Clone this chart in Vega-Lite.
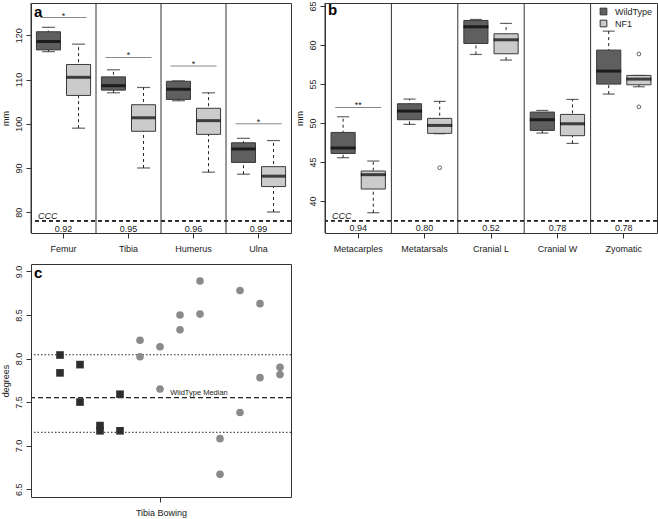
{
  "$schema": "https://vega.github.io/schema/vega-lite/v6.json",
  "padding": {"left": 0, "top": 0, "right": 0, "bottom": 0},
  "background": "white",
  "config": {
    "font": "Liberation Sans",
    "view": {"stroke": "#333333", "strokeWidth": 1},
    "axis": {"labelFont": "Liberation Sans", "titleFont": "Liberation Sans", "labelFontSize": 9, "titleFontSize": 9, "titleFontWeight": "normal", "labelColor": "#222222", "titleColor": "#222222", "tickColor": "#333333", "domain": false, "grid": false, "tickSize": 5},
    "axisY": {"labelAngle": -90, "labelAlign": "center", "labelBaseline": "bottom", "labelPadding": 3, "titlePadding": 4},
    "axisX": {"labelAngle": 0, "labelPadding": 6},
    "title": {"font": "Liberation Sans"}
  },
  "datasets": {
    "boxA": [
      {"bone": "Femur", "group": "WildType", "lo": 116.3, "q1": 116.7, "med": 118.6, "q3": 120.8, "hi": 121.8},
      {"bone": "Femur", "group": "NF1", "lo": 99.0, "q1": 106.4, "med": 110.5, "q3": 113.4, "hi": 118.0},
      {"bone": "Tibia", "group": "WildType", "lo": 107.0, "q1": 107.6, "med": 108.6, "q3": 110.6, "hi": 112.2},
      {"bone": "Tibia", "group": "NF1", "lo": 90.0, "q1": 98.3, "med": 101.35, "q3": 104.3, "hi": 108.2},
      {"bone": "Humerus", "group": "WildType", "lo": 105.2, "q1": 105.5, "med": 107.8, "q3": 109.6, "hi": 109.7},
      {"bone": "Humerus", "group": "NF1", "lo": 89.05, "q1": 97.6, "med": 100.7, "q3": 103.5, "hi": 107.0},
      {"bone": "Ulna", "group": "WildType", "lo": 88.6, "q1": 91.25, "med": 94.3, "q3": 95.7, "hi": 96.7},
      {"bone": "Ulna", "group": "NF1", "lo": 80.05, "q1": 85.8, "med": 88.15, "q3": 90.3, "hi": 96.2}
    ],
    "cccA": [
      {"bone": "Femur", "ccc": 0.92, "sig": 124.0, "star": "*"},
      {"bone": "Tibia", "ccc": 0.95, "sig": 115.0, "star": "*"},
      {"bone": "Humerus", "ccc": 0.96, "sig": 113.05, "star": "*"},
      {"bone": "Ulna", "ccc": 0.99, "sig": 100.0, "star": "*"}
    ],
    "boxB": [
      {"measure": "Metacarples", "group": "WildType", "lo": 45.56, "q1": 46.1, "med": 46.8, "q3": 48.8, "hi": 50.81},
      {"measure": "Metacarples", "group": "NF1", "lo": 38.5, "q1": 41.54, "med": 43.38, "q3": 43.85, "hi": 45.13},
      {"measure": "Metatarsals", "group": "WildType", "lo": 49.83, "q1": 50.43, "med": 51.54, "q3": 52.48, "hi": 53.08},
      {"measure": "Metatarsals", "group": "NF1", "lo": 48.63, "q1": 48.68, "med": 49.7, "q3": 50.6, "hi": 52.78},
      {"measure": "Cranial L", "group": "WildType", "lo": 58.8, "q1": 60.21, "med": 62.35, "q3": 63.16, "hi": 63.29},
      {"measure": "Cranial L", "group": "NF1", "lo": 58.08, "q1": 58.89, "med": 60.68, "q3": 61.45, "hi": 62.78},
      {"measure": "Cranial W", "group": "WildType", "lo": 48.72, "q1": 49.06, "med": 50.43, "q3": 51.41, "hi": 51.62},
      {"measure": "Cranial W", "group": "NF1", "lo": 47.39, "q1": 48.38, "med": 49.91, "q3": 51.11, "hi": 53.03},
      {"measure": "Zyomatic", "group": "WildType", "lo": 53.72, "q1": 55.0, "med": 56.67, "q3": 59.36, "hi": 61.79},
      {"measure": "Zyomatic", "group": "NF1", "lo": 54.66, "q1": 54.91, "med": 55.64, "q3": 56.11, "hi": 56.11}
    ],
    "cccB": [
      {"measure": "Metacarples", "ccc": 0.94, "sig": 52.0, "star": "**"},
      {"measure": "Metatarsals", "ccc": 0.80, "sig": null, "star": null},
      {"measure": "Cranial L", "ccc": 0.52, "sig": null, "star": null},
      {"measure": "Cranial W", "ccc": 0.78, "sig": null, "star": null},
      {"measure": "Zyomatic", "ccc": 0.78, "sig": null, "star": null}
    ],
    "outB": [
      {"measure": "Metatarsals", "group": "NF1", "value": 44.27},
      {"measure": "Zyomatic", "group": "NF1", "value": 58.86},
      {"measure": "Zyomatic", "group": "NF1", "value": 52.08}
    ],
    "bow": [
      {"animal": 1, "group": "WildType", "deg": 8.04},
      {"animal": 1, "group": "WildType", "deg": 7.835},
      {"animal": 2, "group": "WildType", "deg": 7.93},
      {"animal": 2, "group": "WildType", "deg": 7.5},
      {"animal": 3, "group": "WildType", "deg": 7.23},
      {"animal": 3, "group": "WildType", "deg": 7.17},
      {"animal": 4, "group": "WildType", "deg": 7.59},
      {"animal": 4, "group": "WildType", "deg": 7.17},
      {"animal": 5, "group": "NF1", "deg": 8.21},
      {"animal": 5, "group": "NF1", "deg": 8.02},
      {"animal": 6, "group": "NF1", "deg": 8.135},
      {"animal": 6, "group": "NF1", "deg": 7.65},
      {"animal": 7, "group": "NF1", "deg": 8.5},
      {"animal": 7, "group": "NF1", "deg": 8.33},
      {"animal": 8, "group": "NF1", "deg": 8.89},
      {"animal": 8, "group": "NF1", "deg": 8.51},
      {"animal": 9, "group": "NF1", "deg": 7.08},
      {"animal": 9, "group": "NF1", "deg": 6.67},
      {"animal": 10, "group": "NF1", "deg": 8.78},
      {"animal": 10, "group": "NF1", "deg": 7.38},
      {"animal": 11, "group": "NF1", "deg": 8.63},
      {"animal": 11, "group": "NF1", "deg": 7.78},
      {"animal": 12, "group": "NF1", "deg": 7.9},
      {"animal": 12, "group": "NF1", "deg": 7.815}
    ]
  },
  "vconcat": [
    {
      "hconcat": [
        {
          "width": 260,
          "height": 230,
          "title": {"text": "a", "anchor": "start", "frame": "group", "offset": -17, "dx": 3, "fontSize": 15, "fontWeight": "bold", "color": "#000000"},
          "layer": [
            {
              "data": {"name": "cccA"},
              "mark": {"type": "rule", "color": "#333333", "strokeWidth": 1},
              "encoding": {
                "x": {"field": "bone", "type": "nominal", "bandPosition": 0, "scale": {"domain": ["Femur", "Tibia", "Humerus", "Ulna"], "paddingInner": 0, "paddingOuter": 0}, "axis": {"title": null}}
              }
            },
            {
              "data": {"name": "cccA"},
              "mark": {"type": "rule", "color": "#222222", "strokeDash": [4, 3], "strokeWidth": 1},
              "encoding": {"y": {"datum": 78.03, "type": "quantitative"}}
            },
            {
              "data": {"name": "boxA"},
              "mark": {"type": "rule", "color": "#222222", "strokeDash": [3, 3], "strokeWidth": 1},
              "encoding": {
                "x": {"field": "bone", "type": "nominal", "scale": {"domain": ["Femur", "Tibia", "Humerus", "Ulna"], "paddingInner": 0, "paddingOuter": 0}, "axis": {"title": null}},
                "xOffset": {"field": "group", "type": "nominal", "scale": {"domain": ["WildType", "NF1"], "paddingInner": 0.2, "paddingOuter": 0.18}},
                "y": {"field": "lo", "type": "quantitative", "scale": {"domain": [75.3, 127.3], "nice": false, "zero": false}, "axis": {"title": "mm", "values": [80, 90, 100, 110, 120]}},
                "y2": {"field": "hi"}
              }
            },
            {
              "data": {"name": "boxA"},
              "mark": {"type": "tick", "orient": "horizontal", "size": 13, "thickness": 1.2, "color": "#222222"},
              "encoding": {
                "x": {"field": "bone", "type": "nominal"},
                "xOffset": {"field": "group", "type": "nominal"},
                "y": {"field": "hi", "type": "quantitative"}
              }
            },
            {
              "data": {"name": "boxA"},
              "mark": {"type": "tick", "orient": "horizontal", "size": 13, "thickness": 1.2, "color": "#222222"},
              "encoding": {
                "x": {"field": "bone", "type": "nominal"},
                "xOffset": {"field": "group", "type": "nominal"},
                "y": {"field": "lo", "type": "quantitative"}
              }
            },
            {
              "data": {"name": "boxA"},
              "mark": {"type": "bar", "stroke": "#3a3a3a", "strokeWidth": 1},
              "encoding": {
                "x": {"field": "bone", "type": "nominal"},
                "xOffset": {"field": "group", "type": "nominal"},
                "y": {"field": "q1", "type": "quantitative"},
                "y2": {"field": "q3"},
                "color": {"field": "group", "type": "nominal", "scale": {"domain": ["WildType", "NF1"], "range": ["#5f5f5f", "#cbcbcb"]}, "legend": null}
              }
            },
            {
              "data": {"name": "boxA"},
              "mark": {"type": "tick", "orient": "horizontal", "size": 24, "thickness": 3, "color": "#000000"},
              "encoding": {
                "x": {"field": "bone", "type": "nominal"},
                "xOffset": {"field": "group", "type": "nominal"},
                "y": {"field": "med", "type": "quantitative"}
              }
            },
            {
              "data": {"name": "cccA"},
              "mark": {"type": "tick", "orient": "horizontal", "size": 46, "thickness": 1, "color": "#555555"},
              "encoding": {
                "x": {"field": "bone", "type": "nominal"},
                "y": {"field": "sig", "type": "quantitative"}
              }
            },
            {
              "data": {"name": "cccA"},
              "mark": {"type": "text", "fontSize": 9, "baseline": "alphabetic", "dy": 1, "color": "#222222"},
              "encoding": {
                "x": {"field": "bone", "type": "nominal"},
                "y": {"field": "sig", "type": "quantitative"},
                "text": {"field": "star"}
              }
            },
            {
              "data": {"name": "cccA"},
              "mark": {"type": "text", "fontSize": 9, "baseline": "middle", "color": "#222222"},
              "encoding": {
                "x": {"field": "bone", "type": "nominal"},
                "y": {"datum": 76.3, "type": "quantitative"},
                "text": {"field": "ccc", "type": "quantitative", "format": ".2f"}
              }
            },
            {
              "data": {"values": [{"bone": "Femur", "label": "CCC"}]},
              "mark": {"type": "text", "fontSize": 9, "fontStyle": "italic", "align": "left", "baseline": "middle", "dx": 7, "color": "#222222"},
              "encoding": {
                "x": {"field": "bone", "type": "nominal", "bandPosition": 0},
                "y": {"datum": 79.1, "type": "quantitative"},
                "text": {"field": "label"}
              }
            }
          ]
        },
        {
          "width": 332,
          "height": 230,
          "title": {"text": "b", "anchor": "start", "frame": "group", "offset": -17, "dx": 3, "fontSize": 15, "fontWeight": "bold", "color": "#000000"},
          "layer": [
            {
              "data": {"name": "cccB"},
              "mark": {"type": "rule", "color": "#333333", "strokeWidth": 1},
              "encoding": {
                "x": {"field": "measure", "type": "nominal", "bandPosition": 0, "scale": {"domain": ["Metacarples", "Metatarsals", "Cranial L", "Cranial W", "Zyomatic"], "paddingInner": 0, "paddingOuter": 0}, "axis": {"title": null}}
              }
            },
            {
              "data": {"name": "cccB"},
              "mark": {"type": "rule", "color": "#222222", "strokeDash": [4, 3], "strokeWidth": 1},
              "encoding": {"y": {"datum": 37.47, "type": "quantitative"}}
            },
            {
              "data": {"name": "boxB"},
              "mark": {"type": "rule", "color": "#222222", "strokeDash": [3, 3], "strokeWidth": 1},
              "encoding": {
                "x": {"field": "measure", "type": "nominal", "scale": {"domain": ["Metacarples", "Metatarsals", "Cranial L", "Cranial W", "Zyomatic"], "paddingInner": 0, "paddingOuter": 0}, "axis": {"title": null}},
                "xOffset": {"field": "group", "type": "nominal", "scale": {"domain": ["WildType", "NF1"], "paddingInner": 0.2, "paddingOuter": 0.2}},
                "y": {"field": "lo", "type": "quantitative", "scale": {"domain": [35.9, 65.4], "nice": false, "zero": false}, "axis": {"title": "mm", "values": [40, 45, 50, 55, 60, 65]}},
                "y2": {"field": "hi"}
              }
            },
            {
              "data": {"name": "boxB"},
              "mark": {"type": "tick", "orient": "horizontal", "size": 12, "thickness": 1.2, "color": "#222222"},
              "encoding": {
                "x": {"field": "measure", "type": "nominal"},
                "xOffset": {"field": "group", "type": "nominal"},
                "y": {"field": "hi", "type": "quantitative"}
              }
            },
            {
              "data": {"name": "boxB"},
              "mark": {"type": "tick", "orient": "horizontal", "size": 12, "thickness": 1.2, "color": "#222222"},
              "encoding": {
                "x": {"field": "measure", "type": "nominal"},
                "xOffset": {"field": "group", "type": "nominal"},
                "y": {"field": "lo", "type": "quantitative"}
              }
            },
            {
              "data": {"name": "boxB"},
              "mark": {"type": "bar", "stroke": "#3a3a3a", "strokeWidth": 1},
              "encoding": {
                "x": {"field": "measure", "type": "nominal"},
                "xOffset": {"field": "group", "type": "nominal"},
                "y": {"field": "q1", "type": "quantitative"},
                "y2": {"field": "q3"},
                "color": {"field": "group", "type": "nominal", "scale": {"domain": ["WildType", "NF1"], "range": ["#5f5f5f", "#cbcbcb"]}, "legend": {"orient": "top-right", "title": null, "symbolType": "square", "symbolSize": 45, "symbolStrokeColor": "#333333", "symbolStrokeWidth": 1, "labelFontSize": 9, "labelFont": "Liberation Sans", "labelColor": "#222222", "rowPadding": 1, "padding": 0, "offset": 4, "labelOffset": 7}}
              }
            },
            {
              "data": {"name": "boxB"},
              "mark": {"type": "tick", "orient": "horizontal", "size": 25, "thickness": 3, "color": "#000000"},
              "encoding": {
                "x": {"field": "measure", "type": "nominal"},
                "xOffset": {"field": "group", "type": "nominal"},
                "y": {"field": "med", "type": "quantitative"}
              }
            },
            {
              "data": {"name": "outB"},
              "mark": {"type": "point", "shape": "circle", "filled": false, "size": 14, "stroke": "#222222", "strokeWidth": 1},
              "encoding": {
                "x": {"field": "measure", "type": "nominal"},
                "xOffset": {"field": "group", "type": "nominal"},
                "y": {"field": "value", "type": "quantitative"}
              }
            },
            {
              "data": {"name": "cccB"},
              "mark": {"type": "tick", "orient": "horizontal", "size": 46, "thickness": 1, "color": "#555555"},
              "encoding": {
                "x": {"field": "measure", "type": "nominal"},
                "y": {"field": "sig", "type": "quantitative"}
              }
            },
            {
              "data": {"name": "cccB"},
              "mark": {"type": "text", "fontSize": 9, "baseline": "alphabetic", "dy": 1, "color": "#222222"},
              "encoding": {
                "x": {"field": "measure", "type": "nominal"},
                "y": {"field": "sig", "type": "quantitative"},
                "text": {"field": "star"}
              }
            },
            {
              "data": {"name": "cccB"},
              "mark": {"type": "text", "fontSize": 9, "baseline": "middle", "color": "#222222"},
              "encoding": {
                "x": {"field": "measure", "type": "nominal"},
                "y": {"datum": 36.5, "type": "quantitative"},
                "text": {"field": "ccc", "type": "quantitative", "format": ".2f"}
              }
            },
            {
              "data": {"values": [{"measure": "Metacarples", "label": "CCC"}]},
              "mark": {"type": "text", "fontSize": 9, "fontStyle": "italic", "align": "left", "baseline": "middle", "dx": 7, "color": "#222222"},
              "encoding": {
                "x": {"field": "measure", "type": "nominal", "bandPosition": 0},
                "y": {"datum": 38.07, "type": "quantitative"},
                "text": {"field": "label"}
              }
            }
          ]
        }
      ],
      "spacing": 2,
      "resolve": {"scale": {"color": "independent", "x": "independent", "y": "independent", "xOffset": "independent"}, "legend": {"color": "independent"}}
    },
    {
      "width": 260,
      "height": 233,
      "title": {"text": "c", "anchor": "start", "frame": "group", "offset": -17, "dx": 3, "fontSize": 15, "fontWeight": "bold", "color": "#000000"},
      "layer": [
        {
          "data": {"values": [{"line": "upper", "deg": 8.043}, {"line": "lower", "deg": 7.153}]},
          "mark": {"type": "rule", "color": "#222222", "strokeDash": [1.5, 2], "strokeWidth": 1},
          "encoding": {"y": {"field": "deg", "type": "quantitative", "scale": {"domain": [6.41, 9.085], "nice": false, "zero": false}, "axis": {"title": "degrees", "values": [6.5, 7, 7.5, 8, 8.5, 9], "format": ".1f"}}}
        },
        {
          "data": {"values": [{"line": "median", "deg": 7.55}]},
          "mark": {"type": "rule", "color": "#222222", "strokeDash": [5, 3], "strokeWidth": 1.2},
          "encoding": {"y": {"field": "deg", "type": "quantitative"}}
        },
        {
          "data": {"values": [{"label": "WildType Median"}]},
          "mark": {"type": "text", "fontSize": 7.5, "baseline": "middle", "align": "center", "color": "#222222"},
          "encoding": {
            "x": {"datum": 7.95, "type": "quantitative"},
            "y": {"datum": 7.604, "type": "quantitative"},
            "text": {"field": "label"}
          }
        },
        {
          "data": {"name": "bow"},
          "mark": {"type": "point", "filled": true, "size": 58, "opacity": 1, "strokeWidth": 0},
          "encoding": {
            "x": {"field": "animal", "type": "quantitative", "scale": {"domain": [-0.45, 12.55], "nice": false, "zero": false}, "axis": {"title": "Tibia Bowing", "values": [6], "labels": false, "titlePadding": 6}},
            "y": {"field": "deg", "type": "quantitative"},
            "shape": {"field": "group", "type": "nominal", "scale": {"domain": ["WildType", "NF1"], "range": ["square", "circle"]}, "legend": null},
            "color": {"field": "group", "type": "nominal", "scale": {"domain": ["WildType", "NF1"], "range": ["#2e2e2e", "#8a8a8a"]}, "legend": null}
          }
        }
      ]
    }
  ],
  "spacing": 9,
  "resolve": {"scale": {"color": "independent", "shape": "independent", "x": "independent", "y": "independent"}, "legend": {"color": "independent", "shape": "independent"}}
}
